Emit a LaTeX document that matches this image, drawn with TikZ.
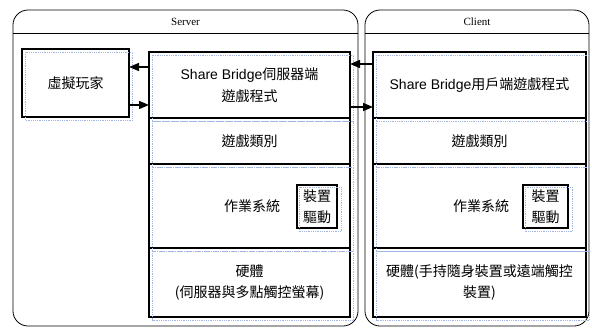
\documentclass[tikz,border=0pt]{standalone}
\usepackage{fontspec}
\setmainfont{Liberation Sans}
\newfontfamily\cjk{Noto Sans CJK TC}
\newfontfamily\titlefont{Liberation Serif}
\usetikzlibrary{arrows.meta}
\usetikzlibrary{positioning}
\definecolor{ghostblue}{RGB}{160,182,228}
\newcommand{\sbridge}[0]{{\rmfamily Share Bridge}}
\newcommand{\ghostbox}[1]{
  \draw[ghost] ([shift={(3.5pt,-3pt)}]#1.north west) rectangle ([shift={(3.5pt,-3pt)}]#1.south east);
}
\tikzset{
panel/.style={
  draw=black,
  line width=0.8pt,
  rounded corners=15pt,
  fill=white
  }
}
\tikzset{
paneltitle/.style={
  font=\fontsize{11}{13}\selectfont\titlefont,
  inner sep=0pt
  }
}
\tikzset{
layer/.style={
  draw=black,
  line width=1.6pt,
  fill=white,
  inner sep=0pt,
  outer sep=0pt,
  align=center,
  font=\fontsize{14}{21.5}\selectfont\cjk
  }
}
\tikzset{
drv/.style={
  draw=black,
  line width=1.4pt,
  inner sep=0pt,
  align=center,
  minimum height=43pt,
  font=\fontsize{14}{21.5}\selectfont\cjk
  }
}
\tikzset{
oslabel/.style={
  inner sep=0pt,
  font=\fontsize{14}{21.5}\selectfont\cjk
  }
}
\tikzstyle{flow} = [draw,line width=1.4pt,-{Triangle[length=10pt,width=8pt]}]
\tikzstyle{ghost} = [draw=ghostblue,densely dotted,line width=0.8pt]
\tikzset{%
    boundingBox/.style={use as bounding box},
    }

\begin{document}
\begin{tikzpicture}[x=1pt, y=-1pt]
	\path[boundingBox, fill=white] (0,0) rectangle (592,327);

	%panels
	\draw[panel] (13,10) rectangle (358,326);
	\draw[line width=0.8pt] (13,33) -- (358,33);
	\node[paneltitle] (srvtitle) at (185.5,21.5) {Server};

	\draw[panel] (365,10) rectangle (589,326);
	\draw[line width=0.8pt] (365,33) -- (589,33);
	\node[paneltitle] (clttitle) at (477,21.5) {Client};

	%server side
	\node[layer, minimum width=107pt, minimum height=68pt] (player) at (75.5,83) {虛擬玩家};

	\node[layer, minimum width=201pt, minimum height=66pt] (sgame) at (249.5,85) {\sbridge 伺服器端\\遊戲程式};
	\node[layer, minimum width=201pt, minimum height=46pt, below=0pt of sgame] (stype) {遊戲類別};
	\node[layer, minimum width=201pt, minimum height=84pt, below=0pt of stype] (sos) {};
	\node[layer, minimum width=201pt, minimum height=69pt, below=0pt of sos] (shw) {硬體\\(伺服器與多點觸控螢幕)};

	\node[drv, minimum width=40pt] (sdrv) at (317,206.5) {裝置\\驅動};
	\node[oslabel, left=16pt of sdrv] (soslabel) {作業系統};

	%client side
	\node[layer, minimum width=213pt, minimum height=66pt] (cgame) at (479.5,85) {\sbridge 用戶端遊戲程式};
	\node[layer, minimum width=213pt, minimum height=46pt, below=0pt of cgame] (ctype) {遊戲類別};
	\node[layer, minimum width=213pt, minimum height=84pt, below=0pt of ctype] (cos) {};
	\node[layer, minimum width=213pt, minimum height=69pt, below=0pt of cos] (chw) {硬體(手持隨身裝置或遠端觸控\\裝置)};

	\node[drv, minimum width=45pt] (cdrv) at (545.5,206.5) {裝置\\驅動};
	\node[oslabel, left=13pt of cdrv] (coslabel) {作業系統};

	%selection outlines
	\ghostbox{player}
	\ghostbox{sgame}
	\ghostbox{stype}
	\ghostbox{sos}
	\ghostbox{shw}
	\ghostbox{sdrv}
	\ghostbox{cgame}
	\ghostbox{ctype}
	\ghostbox{cos}
	\ghostbox{chw}
	\ghostbox{cdrv}

	%edges
	\draw[flow] ([yshift=18pt]sgame.west) -- ([yshift=18pt]sgame.west -| player.east);
	\draw[flow] ([yshift=-22pt]player.east) -- ([yshift=-22pt]player.east -| sgame.west);

	\draw[flow] ([yshift=21pt]cgame.west) -- ([yshift=21pt]cgame.west -| sgame.east);
	\draw[flow] ([yshift=-22pt]sgame.east) -- ([yshift=-22pt]sgame.east -| cgame.west);
\end{tikzpicture}
\end{document}
